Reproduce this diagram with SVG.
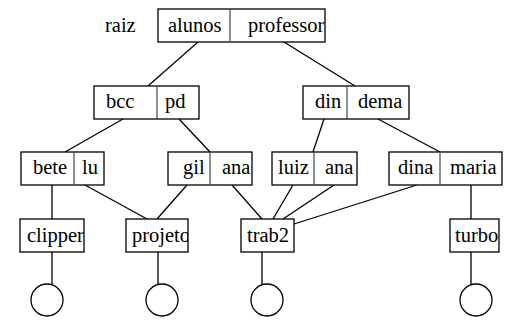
<svg xmlns="http://www.w3.org/2000/svg" width="514" height="333" viewBox="0 0 514 333">
  <style>
    .box { fill: #fff; stroke: #000; stroke-width: 1.3; }
    .div { stroke: #555; stroke-width: 1.3; }
    .edge { stroke: #000; stroke-width: 1.3; fill: none; }
    .leaf { fill: #fff; stroke: #000; stroke-width: 1.3; }
    .lbl { font-family: 'Liberation Serif', 'Times New Roman', serif; font-size: 20.5px; fill: #000; }
  </style>
  <defs>
    <clipPath id="c-root"><rect x="158" y="9" width="167" height="33"/></clipPath>
    <clipPath id="c-clipper"><rect x="20" y="219" width="64" height="33"/></clipPath>
    <clipPath id="c-projeto"><rect x="126" y="219" width="62" height="33"/></clipPath>
  </defs>
  <rect width="514" height="333" fill="#fff"/>

  <!-- connectors -->
  <g id="connectors">
    <line class="edge" x1="198" y1="42" x2="148" y2="86"/>
    <line class="edge" x1="284" y1="42" x2="355" y2="86"/>
    <line class="edge" x1="123" y1="119" x2="65" y2="152"/>
    <line class="edge" x1="179" y1="119" x2="210" y2="152"/>
    <line class="edge" x1="324" y1="119" x2="313" y2="152"/>
    <line class="edge" x1="378" y1="119" x2="440" y2="152"/>
    <line class="edge" x1="52" y1="185" x2="52" y2="219"/>
    <line class="edge" x1="85" y1="185" x2="147" y2="219"/>
    <line class="edge" x1="187" y1="185" x2="157" y2="219"/>
    <line class="edge" x1="232" y1="185" x2="262" y2="219"/>
    <line class="edge" x1="293" y1="185" x2="273" y2="219"/>
    <line class="edge" x1="334" y1="185" x2="283" y2="219"/>
    <line class="edge" x1="417" y1="185" x2="294" y2="224"/>
    <line class="edge" x1="471" y1="185" x2="471" y2="219" stroke="#777"/>
    <line class="edge" x1="52" y1="252" x2="52" y2="285"/>
    <line class="edge" x1="158" y1="252" x2="158" y2="285"/>
    <line class="edge" x1="262" y1="252" x2="262" y2="285"/>
    <line class="edge" x1="471" y1="252" x2="471" y2="285"/>
  </g>

  <text class="lbl" x="105" y="32">raiz</text>

  <g id="root">
    <rect class="box" x="158" y="9" width="167" height="33"/>
    <line class="div" x1="230" y1="9" x2="230" y2="42"/>
    <text class="lbl" x="168" y="32">alunos</text>
    <text class="lbl" x="248" y="32" clip-path="url(#c-root)">professor</text>
  </g>

  <g id="bcc-pd">
    <rect class="box" x="94" y="86" width="105" height="33"/>
    <line class="div" x1="157" y1="86" x2="157" y2="119"/>
    <text class="lbl" x="106" y="108">bcc</text>
    <text class="lbl" x="165" y="108">pd</text>
  </g>

  <g id="din-dema">
    <rect class="box" x="303" y="86" width="106" height="33"/>
    <line class="div" x1="347" y1="86" x2="347" y2="119"/>
    <text class="lbl" x="315" y="108">din</text>
    <text class="lbl" x="358" y="108">dema</text>
  </g>

  <g id="bete-lu">
    <rect class="box" x="21" y="152" width="83" height="33"/>
    <line class="div" x1="74" y1="152" x2="74" y2="185"/>
    <text class="lbl" x="33" y="174">bete</text>
    <text class="lbl" x="82" y="174">lu</text>
  </g>

  <g id="gil-ana">
    <rect class="box" x="168" y="152" width="84" height="33"/>
    <line class="div" x1="210" y1="152" x2="210" y2="185"/>
    <text class="lbl" x="183" y="174">gil</text>
    <text class="lbl" x="222" y="174">ana</text>
  </g>

  <g id="luiz-ana">
    <rect class="box" x="272" y="152" width="85" height="33"/>
    <line class="div" x1="314" y1="152" x2="314" y2="185"/>
    <text class="lbl" x="278" y="174">luiz</text>
    <text class="lbl" x="325" y="174">ana</text>
  </g>

  <g id="dina-maria">
    <rect class="box" x="389" y="152" width="113" height="33"/>
    <line class="div" x1="440" y1="152" x2="440" y2="185"/>
    <text class="lbl" x="398" y="174">dina</text>
    <text class="lbl" x="450" y="174">maria</text>
  </g>

  <g id="clipper">
    <rect class="box" x="20" y="219" width="64" height="33"/>
    <text class="lbl" x="27" y="242" clip-path="url(#c-clipper)">clipper</text>
    <circle class="leaf" cx="47" cy="300" r="16"/>
  </g>

  <g id="projeto">
    <rect class="box" x="126" y="219" width="62" height="33"/>
    <text class="lbl" x="132" y="242" clip-path="url(#c-projeto)">projeto</text>
    <circle class="leaf" cx="162" cy="300" r="16"/>
  </g>

  <g id="trab2">
    <rect class="box" x="241" y="219" width="53" height="33"/>
    <text class="lbl" x="247" y="242">trab2</text>
    <circle class="leaf" cx="267" cy="300" r="16"/>
  </g>

  <g id="turbo">
    <rect class="box" x="450" y="219" width="49" height="33"/>
    <text class="lbl" x="455" y="242">turbo</text>
    <circle class="leaf" cx="476" cy="300" r="16"/>
  </g>
</svg>
